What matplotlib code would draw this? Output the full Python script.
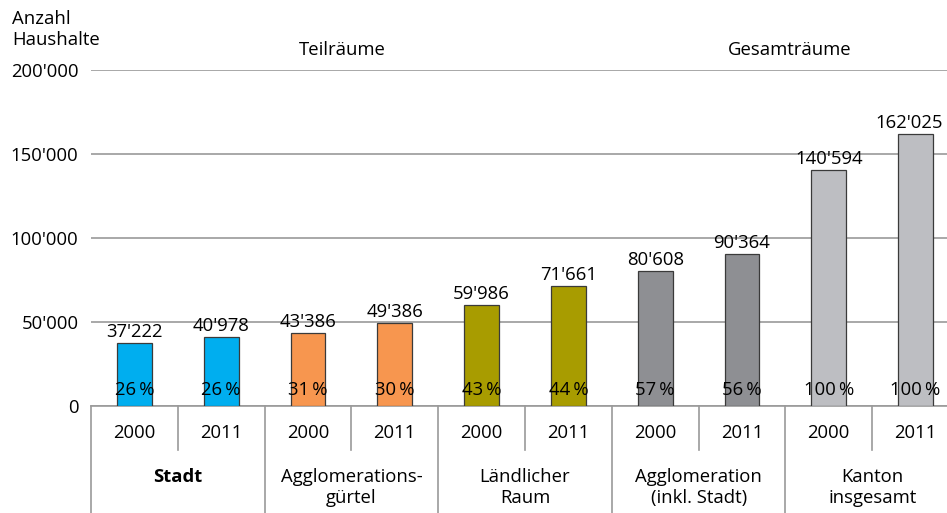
import matplotlib
matplotlib.use("Agg")
import matplotlib.pyplot as plt

# data
years = ['2000', '2011', '2000', '2011', '2000', '2011', '2000', '2011', '2000', '2011']
households = [37222, 40978, 43386, 49386, 59986, 71661, 80608, 90364, 140594, 162025]
shares = [26, 26, 31, 30, 43, 44, 57, 56, 100, 100]
groups = ['Stadt', 'Agglomerations-\ngürtel', 'Ländlicher\nRaum',
          'Agglomeration\n(inkl. Stadt)', 'Kanton\ninsgesamt']
group_colors = ['#00AEEF', '#F7964F', '#A89C00', '#8E8F93', '#BDBEC2']
headers = ['Teilräume', 'Gesamträume']

plt.rcParams['font.family'] = ['Open Sans', 'DejaVu Sans']
plt.rcParams['font.size'] = 13.3

fig = plt.figure(figsize=(9.47, 5.13), dpi=100)
ax = fig.add_axes([91 / 947, 107 / 513, 868 / 947, 336 / 513])

x = list(range(len(households)))
colors = [group_colors[i // 2] for i in x]
ax.bar(x, households, width=0.4, color=colors, edgecolor='#3a3a3a', linewidth=0.9, zorder=3)

def fmt(v):
    return f"{v:,}".replace(",", "'")

for xi, v in zip(x, households):
    # last label nudged left so it stays inside the figure
    dx = -0.07 if xi == x[-1] else 0
    ax.text(xi + dx, v + 1200, fmt(v), ha='center', va='bottom', zorder=4)
for xi, s in zip(x, shares):
    ax.text(xi, 9800, f"{s}\u2009%", ha='center', va='center', zorder=4)

ax.set_xlim(-0.5, 9.5)
ax.set_ylim(0, 200000)
ax.set_yticks([0, 50000, 100000, 150000, 200000])
ax.set_yticklabels([fmt(t) for t in [0, 50000, 100000, 150000, 200000]])
ax.set_xticks([])
ax.tick_params(axis='y', length=0, pad=9)
ax.grid(axis='y', color='#9a9a9a', linewidth=1.2, zorder=0)
for s in ['top', 'right', 'left']:
    ax.spines[s].set_visible(False)
ax.spines['bottom'].set_color('#9a9a9a')
ax.spines['bottom'].set_linewidth(1.2)

# table below the axis
tr = ax.get_xaxis_transform()
for i in range(len(x) + 1):
    b = i - 0.5
    y_end = -0.131 if i % 2 == 1 else -0.35
    ax.plot([b, b], [0, y_end], color='#9a9a9a', lw=1.2, transform=tr, clip_on=False)
for xi, yr in zip(x, years):
    ax.text(xi, -0.08, yr, ha='center', va='center', transform=tr)
for g, name in enumerate(groups):
    ax.text(2 * g + 0.5, -0.185, name, ha='center', va='top', transform=tr,
            fontweight='bold' if g == 0 else 'normal', linespacing=1.2)

# headers
ax.text(2.4, 1.06, headers[0], ha='center', va='center', transform=tr)
ax.text(7.55, 1.06, headers[1], ha='center', va='center', transform=tr)
fig.text(12 / 947, 1 - 10 / 513, 'Anzahl\nHaushalte', ha='left', va='top', linespacing=1.2)

fig.savefig('out.png', dpi=100)
